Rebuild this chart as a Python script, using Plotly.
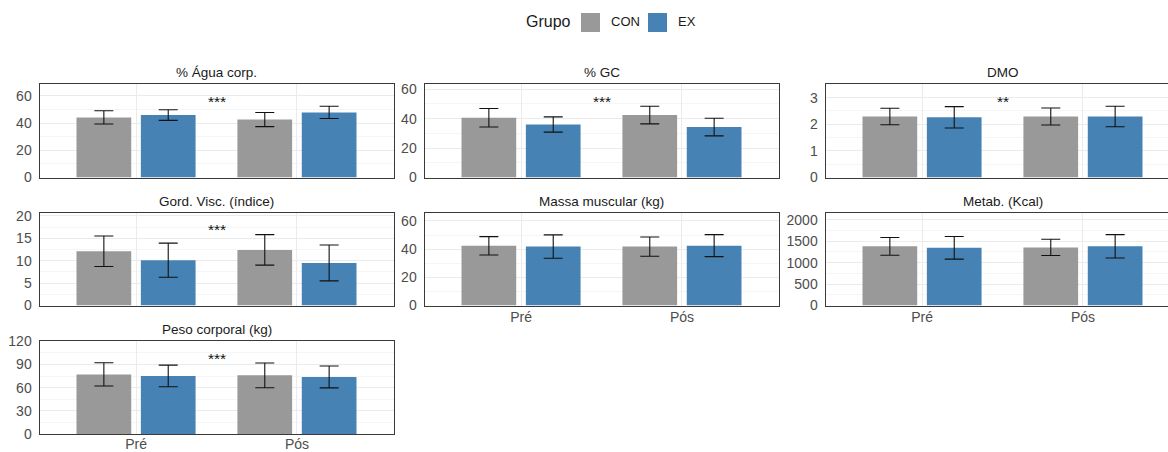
import plotly.graph_objects as go

# Body-composition outcomes, mean ± SD by group and time point
periods = ["Pré", "Pós"]
groups = ["CON", "EX"]
panels = [
    "% Água corp.",
    "% GC",
    "DMO",
    "Gord. Visc. (índice)",
    "Massa muscular (kg)",
    "Metab. (Kcal)",
    "Peso corporal (kg)",
]

con_pre_mean = [44.2, 40.6, 2.29, 12.1, 42.4, 1380, 77.2]
con_pos_mean = [42.6, 42.4, 2.29, 12.4, 41.8, 1355, 76.0]
ex_pre_mean = [45.9, 36.0, 2.26, 10.1, 41.8, 1345, 75.2]
ex_pos_mean = [47.9, 34.3, 2.29, 9.5, 42.5, 1380, 74.0]

con_pre_sd = [4.9, 6.3, 0.31, 3.4, 6.5, 207, 15.1]
con_pos_sd = [5.2, 6.0, 0.32, 3.4, 6.8, 190, 16.0]
ex_pre_sd = [3.9, 5.2, 0.40, 3.8, 8.3, 264, 14.0]
ex_pos_sd = [4.5, 6.0, 0.385, 4.0, 7.8, 272, 14.2]

# group x time interaction labels
significance = ["***", "***", "**", "***", "", "", "***"]
y_tick_step = [20, 20, 1, 5, 20, 500, 30]

# ---- styling / layout ----
W, H = 1168, 452
FONT = "Liberation Sans, Arial, sans-serif"
COLORS = {"CON": "#999999", "EX": "#4682B4"}
BORDER = "#3a3a3a"
GRID_MAJOR = "#EBEBEB"
GRID_MINOR = "#F5F5F5"
TICK_COLOR = "#4D4D4D"

col_px = [(39.5, 393.5), (424.5, 779.0), (825.5, 1168.0)]
row_px = [(84.0, 177.5), (212.5, 305.5), (340.5, 434.0)]
unit_px = (393.5 - 39.5) / 2.2  # px per category unit for a full panel


def px_x(v):
    return v / W


def px_y(v):
    return 1 - v / H


fig = go.Figure()
layout = dict(
    width=W,
    height=H,
    margin=dict(l=0, r=0, t=0, b=0, pad=0),
    paper_bgcolor="white",
    plot_bgcolor="white",
    barmode="group",
    bargap=0.2,
    bargroupgap=0.15,
    showlegend=False,
    font=dict(family=FONT, size=13, color=TICK_COLOR),
)
annotations = []
shapes = []

for i, name in enumerate(panels):
    row, col = divmod(i, 3)
    ax = "" if i == 0 else str(i + 1)
    xa, ya = "x" + ax, "y" + ax

    means = {"CON": [con_pre_mean[i], con_pos_mean[i]], "EX": [ex_pre_mean[i], ex_pos_mean[i]]}
    sds = {"CON": [con_pre_sd[i], con_pos_sd[i]], "EX": [ex_pre_sd[i], ex_pos_sd[i]]}

    for g in groups:
        fig.add_trace(
            go.Bar(
                x=periods,
                y=means[g],
                name=g,
                xaxis=xa,
                yaxis=ya,
                offsetgroup=g,
                marker=dict(color=COLORS[g], line=dict(width=0)),
                error_y=dict(type="data", array=sds[g], color="#111111", thickness=1.1, width=9.5),
                hoverinfo="skip",
            )
        )

    top = max(max(m + s for m, s in zip(means[g], sds[g])) for g in groups)
    y_max = top * 1.25 * 1.05

    x0, x1 = col_px[col]
    y0, y1 = row_px[row]
    x_hi = -0.6 + (x1 - x0) / unit_px
    last_in_col = (row == 2) or (row == 1 and col > 0)
    full_border = col < 2

    layout["xaxis" + ax] = dict(
        domain=[px_x(x0), px_x(x1)],
        anchor=ya,
        type="category",
        range=[-0.6, x_hi],
        automargin=False,
        showgrid=True,
        gridcolor=GRID_MAJOR,
        gridwidth=1,
        showline=True,
        linecolor=BORDER,
        linewidth=1,
        mirror=True,
        ticks="",
        showticklabels=last_in_col,
        ticklabelstandoff=-3 if row == 2 else -1,
        tickfont=dict(size=14, color=TICK_COLOR),
        fixedrange=True,
    )
    layout["yaxis" + ax] = dict(
        domain=[px_y(y1), px_y(y0)],
        anchor=xa,
        range=[0, y_max],
        automargin=False,
        dtick=y_tick_step[i],
        tick0=0,
        showgrid=True,
        gridcolor=GRID_MAJOR,
        gridwidth=1,
        minor=dict(dtick=y_tick_step[i] / 2, showgrid=True, gridcolor=GRID_MINOR, gridwidth=1),
        zeroline=False,
        showline=True,
        linecolor=BORDER,
        linewidth=1,
        mirror=full_border,
        ticks="",
        ticklabelstandoff=4,
        tickfont=dict(size=14, color=TICK_COLOR),
        fixedrange=True,
    )

    # panel strip title
    annotations.append(
        dict(
            text=name,
            xref="paper",
            yref="paper",
            x=px_x((x0 + (x0 + 2.2 * unit_px)) / 2),
            y=px_y(y0 - 11),
            xanchor="center",
            yanchor="middle",
            showarrow=False,
            font=dict(family=FONT, size=13.5, color="#1A1A1A"),
        )
    )

    # significance marker between time points
    if significance[i]:
        annotations.append(
            dict(
                text=significance[i],
                xref=xa,
                yref=ya,
                x=0.5,
                y=top * 1.08,
                xanchor="center",
                yanchor="middle",
                yshift=-1,
                showarrow=False,
                font=dict(family=FONT, size=15.5, color="#111111"),
            )
        )

# legend: title plus colour keys
annotations.append(
    dict(text="Grupo", xref="paper", yref="paper", x=px_x(524), y=px_y(22),
         xanchor="left", yanchor="middle", showarrow=False,
         font=dict(family=FONT, size=16, color="#1A1A1A"))
)
legend_keys = [("CON", 581, 609), ("EX", 648, 676)]
for g, sx, tx in legend_keys:
    shapes.append(
        dict(type="rect", xref="paper", yref="paper",
             x0=px_x(sx), x1=px_x(sx + 19), y0=px_y(32), y1=px_y(13),
             fillcolor=COLORS[g], line=dict(width=0))
    )
    annotations.append(
        dict(text=g, xref="paper", yref="paper", x=px_x(tx), y=px_y(22),
             xanchor="left", yanchor="middle", showarrow=False,
             font=dict(family=FONT, size=13, color="#1A1A1A"))
    )

layout["annotations"] = annotations
layout["shapes"] = shapes
fig.update_layout(**layout)
fig.write_html("out.html")
